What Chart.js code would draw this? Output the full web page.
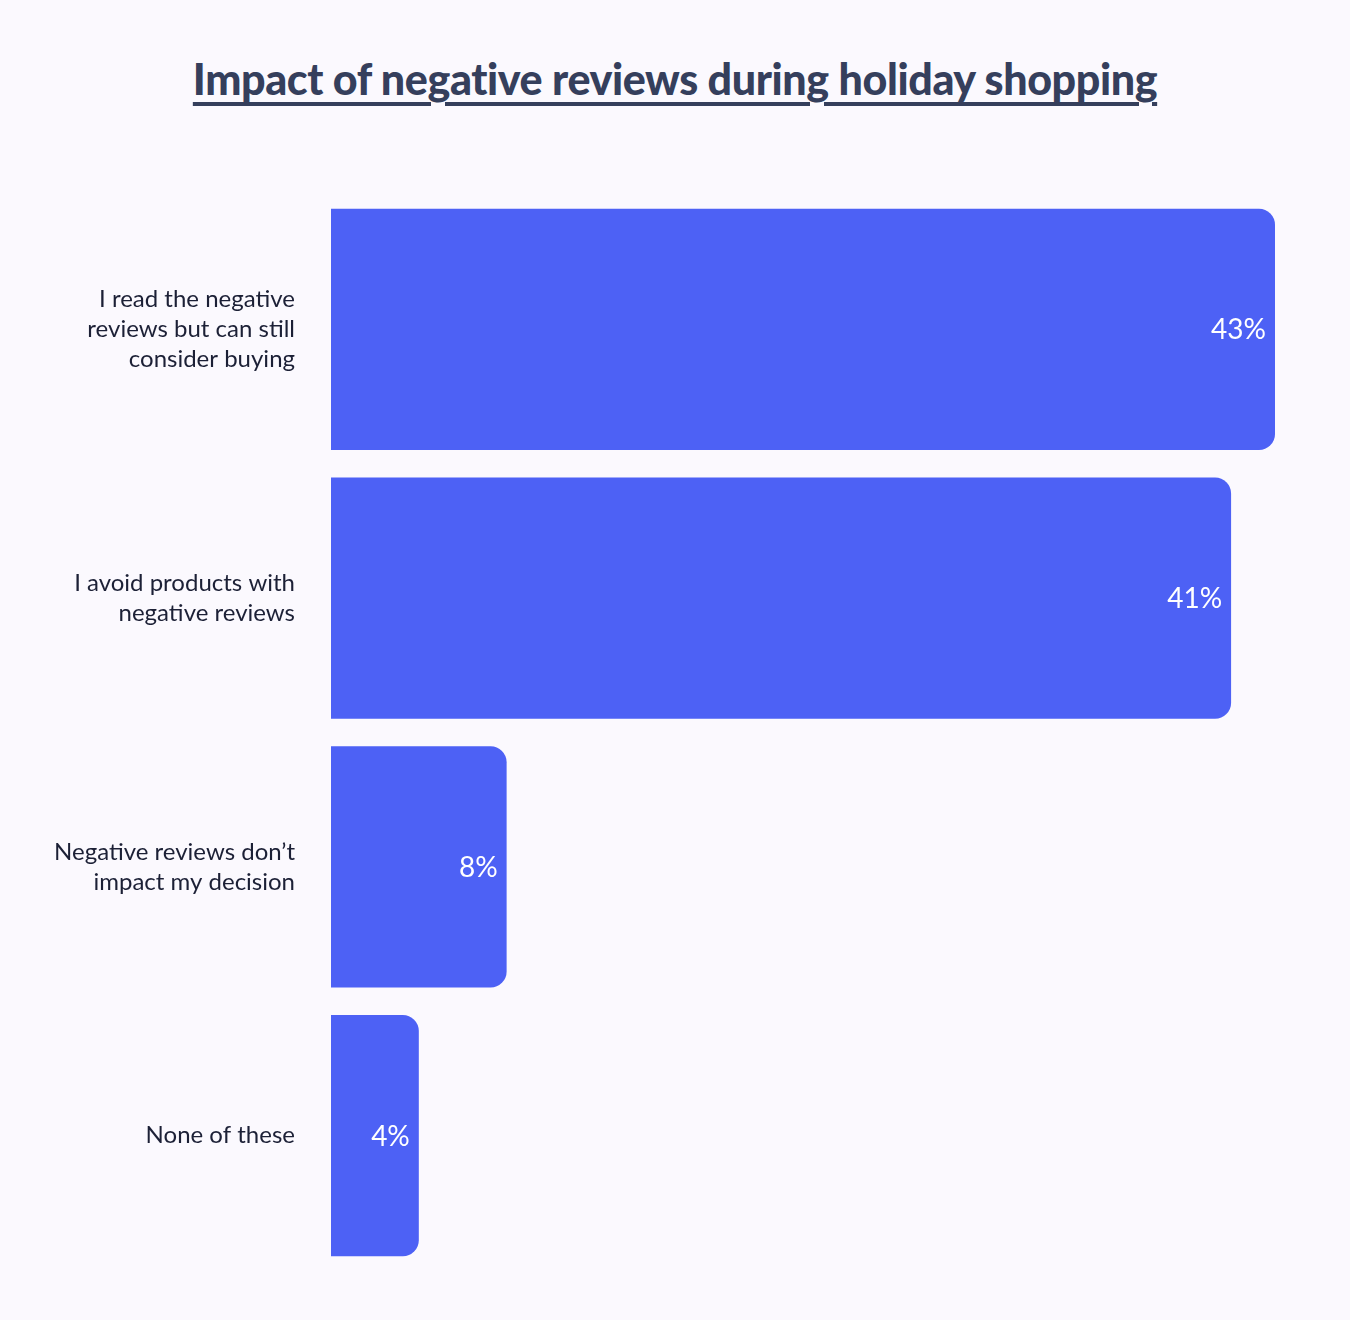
<!DOCTYPE html>
<html>
<head>
<meta charset="utf-8">
<script src="https://cdn.jsdelivr.net/npm/chart.js@4.4.0/dist/chart.umd.min.js"></script>
<style>
  html, body { margin: 0; padding: 0; background: #FBF9FE; }
  #wrap { position: relative; width: 1350px; height: 1320px; }
  h1 { position: absolute; left: 0; top: 0; width: 1350px; margin: 0; padding-top: 53px;
       text-align: center; font-family: Lato, sans-serif; font-weight: 900; font-size: 43px;
       color: #353F5C; text-decoration: underline; text-decoration-thickness: 4px;
       text-underline-offset: 7px; letter-spacing: -0.4px; }
  canvas { position: absolute; left: 0; top: 0; }
</style>
</head>
<body>
<div id="wrap">
  <h1>Impact of negative reviews during holiday shopping</h1>
  <canvas id="c" width="1350" height="1320"></canvas>
</div>
<script>
const categories = [
  ["I read the negative", "reviews but can still", "consider buying"],
  ["I avoid products with", "negative reviews"],
  ["Negative reviews don\u2019t", "impact my decision"],
  ["None of these"]
];
const values = [43, 41, 8, 4];
const valueLabels = ["43%", "41%", "8%", "4%"];

const barLabelPlugin = {
  id: 'barLabels',
  afterDatasetsDraw(chart) {
    const ctx = chart.ctx;
    const meta = chart.getDatasetMeta(0);
    ctx.save();
    ctx.font = '400 28px Lato, sans-serif';
    ctx.fillStyle = '#FFFFFF';
    ctx.textAlign = 'right';
    ctx.textBaseline = 'middle';
    meta.data.forEach((bar, i) => {
      ctx.fillText(valueLabels[i], bar.x - 9, bar.y + 1);
    });
    ctx.restore();
  }
};

new Chart(document.getElementById('c'), {
  type: 'bar',
  data: {
    labels: categories,
    datasets: [{
      data: values,
      backgroundColor: '#4D61F5',
      borderRadius: 16,
      borderSkipped: 'start',
      barPercentage: 0.8976,
      categoryPercentage: 1.0
    }]
  },
  options: {
    indexAxis: 'y',
    responsive: false,
    animation: false,
    devicePixelRatio: 1,
    layout: { padding: { top: 195, bottom: 50, right: 75, left: 0 } },
    plugins: { legend: { display: false }, tooltip: { enabled: false }, title: { display: false } },
    scales: {
      x: { display: false, min: 0, max: 43 },
      y: {
        grid: { display: false, drawTicks: false },
        border: { display: false },
        afterFit(scale) { scale.width = 331; scale.paddingTop = 0; scale.paddingBottom = 0; },
        ticks: {
          padding: 36,
          color: '#1C2036',
          font: { family: 'Lato, sans-serif', size: 24, lineHeight: 1.25 }
        }
      }
    }
  },
  plugins: [barLabelPlugin]
});
</script>
</body>
</html>
